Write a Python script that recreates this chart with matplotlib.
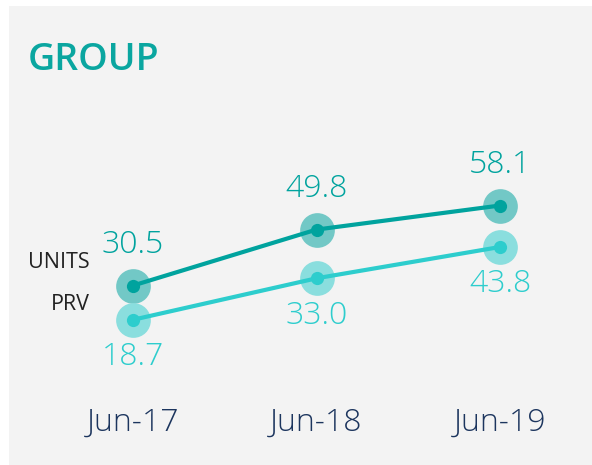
import matplotlib
matplotlib.use("AGG")
import matplotlib.pyplot as plt
from matplotlib.patches import Rectangle

# values per half-year
periods = ["Jun-17", "Jun-18", "Jun-19"]
units = [30.5, 49.8, 58.1]
prv = [18.7, 33.0, 43.8]

teal = "#00A39E"
teal_halo = "#72C8C6"
aqua = "#2DCDCD"
aqua_halo = "#8ADEDE"
navy = "#1C355E"

plt.rcParams['font.family'] = ['Open Sans', 'DejaVu Sans']

W, H = 592, 465
fig = plt.figure(figsize=(W / 100, H / 100), dpi=100)
fig.patch.set_facecolor("white")
fig.patches.append(Rectangle((9 / W, 0), 1 - 9 / W, 1 - 6 / H,
                             transform=fig.transFigure, facecolor="#F3F3F3",
                             edgecolor="none", zorder=-1))

ax = fig.add_axes([0, 0, 1, 1])
ax.set_facecolor("none")
ax.axis("off")
# pixel layout: x index 0 at 133px, 183.5px apart; value 0 at y=374px, 2.9px per unit
ax.set_xlim(-133 / 183.5, (W - 133) / 183.5)
ax.set_ylim((374 - H) / 2.9, 374 / 2.9)

x = list(range(len(periods)))

for vals, col, halo in [(units, teal, teal_halo), (prv, aqua, aqua_halo)]:
    ax.plot(x, vals, color=col, lw=3, solid_capstyle="round", zorder=3)
    ax.plot(x, vals, "o", ms=25, color=halo, mec="none", zorder=2)
    ax.plot(x, vals, "o", ms=9.5, color=col, mec="none", zorder=4)

for i, v in enumerate(units):
    ax.annotate(f"{v:.1f}", (i, v), xytext=(0, 29), textcoords="offset points",
                ha="center", va="center", fontsize=23, color=teal, fontweight="light")
for i, v in enumerate(prv):
    ax.annotate(f"{v:.1f}", (i, v), xytext=(0, -27), textcoords="offset points",
                ha="center", va="center", fontsize=23, color=aqua, fontweight="light")

for i, p in enumerate(periods):
    ax.annotate(p, (i, 0), xytext=(0, -35), textcoords="offset points",
                ha="center", va="center", fontsize=23, color=navy, fontweight="light")

# series names left of the first points
ax.text(90 / W, 1 - 263 / H, "UNITS", transform=ax.transAxes, ha="right",
        va="center", fontsize=15.5, color="#222222")
ax.text(90 / W, 1 - 305 / H, "PRV", transform=ax.transAxes, ha="right",
        va="center", fontsize=15.5, color="#222222")

ax.text(28 / W, 1 - 60 / H, "GROUP", transform=ax.transAxes, ha="left",
        va="center", fontsize=27, color="#0AA6A0", fontweight="semibold")

fig.savefig("out.png", dpi=100)
